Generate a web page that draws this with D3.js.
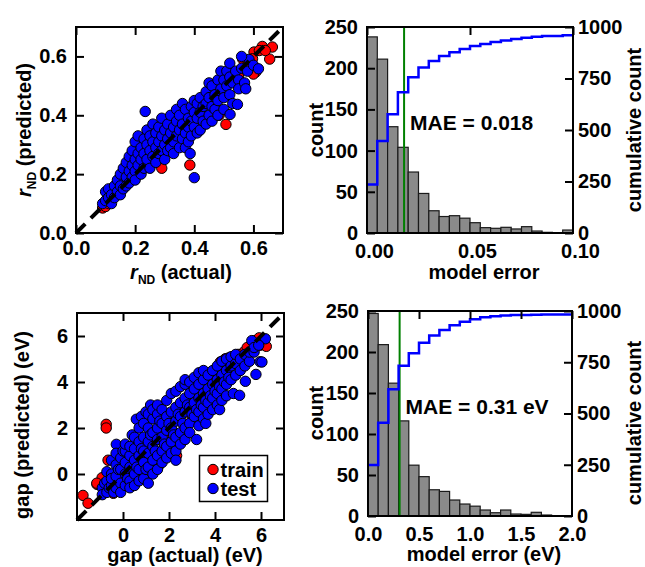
<!DOCTYPE html>
<html>
<head>
<meta charset="utf-8">
<script src="https://cdn.jsdelivr.net/npm/d3@7"></script>
<style>
  body { margin: 0; background: #fff; }
  text { font-family: 'Liberation Sans', Arial, Helvetica, sans-serif; font-weight: bold; }
</style>
</head>
<body>
<svg id="chart" width="645" height="567"></svg>
<script>
/* global d3 */

// ---- r_ND parity plot (top left) ----
var rndTicks = [0, 0.2, 0.4, 0.6]
var rndTickLabels = ['0.0', '0.2', '0.4', '0.6']
var rndTrain = [
    [0.664, 0.632], [0.655, 0.591], [0.63, 0.634], [0.602, 0.615], [0.608, 0.547], [0.563, 0.592],
    [0.507, 0.369], [0.597, 0.592], [0.385, 0.231], [0.09, 0.085], [0.10, 0.09], [0.62, 0.62],
    [0.58, 0.57], [0.55, 0.53], [0.484, 0.40], [0.45, 0.45], [0.30, 0.30], [0.20, 0.19],
    [0.25, 0.24], [0.35, 0.36], [0.40, 0.40], [0.60, 0.54], [0.64, 0.62], [0.52, 0.52],
    [0.34, 0.31], [0.15, 0.14], [0.43, 0.40], [0.57, 0.56], [0.29, 0.22], [0.11, 0.10]
]
var rndTest = [
    [0.09, 0.10], [0.10, 0.14], [0.10, 0.11], [0.11, 0.12], [0.11, 0.15], [0.12, 0.13], [0.12, 0.10],
    [0.13, 0.16], [0.13, 0.12], [0.14, 0.18], [0.14, 0.14], [0.15, 0.13], [0.15, 0.20], [0.15, 0.16],
    [0.16, 0.22], [0.16, 0.15], [0.17, 0.19], [0.17, 0.24], [0.17, 0.16], [0.18, 0.21], [0.18, 0.26],
    [0.18, 0.17], [0.19, 0.23], [0.19, 0.19], [0.19, 0.28], [0.20, 0.25], [0.20, 0.31], [0.20, 0.21],
    [0.20, 0.18], [0.21, 0.27], [0.21, 0.33], [0.21, 0.23], [0.22, 0.29], [0.22, 0.20], [0.22, 0.25],
    [0.23, 0.32], [0.23, 0.27], [0.23, 0.22], [0.234, 0.413], [0.24, 0.30], [0.24, 0.35], [0.24, 0.25],
    [0.25, 0.28], [0.25, 0.33], [0.25, 0.22], [0.26, 0.37], [0.26, 0.31], [0.26, 0.26], [0.27, 0.34],
    [0.27, 0.29], [0.27, 0.24], [0.28, 0.36], [0.28, 0.31], [0.28, 0.27], [0.29, 0.39], [0.29, 0.33],
    [0.29, 0.28], [0.30, 0.35], [0.30, 0.30], [0.30, 0.25], [0.31, 0.37], [0.31, 0.32], [0.31, 0.28],
    [0.32, 0.40], [0.32, 0.34], [0.32, 0.29], [0.33, 0.36], [0.33, 0.31], [0.33, 0.27], [0.34, 0.42],
    [0.34, 0.38], [0.34, 0.33], [0.35, 0.40], [0.35, 0.35], [0.35, 0.29], [0.36, 0.44], [0.36, 0.37],
    [0.36, 0.32], [0.37, 0.42], [0.37, 0.34], [0.37, 0.29], [0.38, 0.39], [0.38, 0.36], [0.38, 0.31],
    [0.386, 0.27], [0.40, 0.188], [0.39, 0.43], [0.39, 0.38], [0.39, 0.33], [0.40, 0.45], [0.40, 0.41],
    [0.40, 0.36], [0.41, 0.44], [0.41, 0.39], [0.41, 0.34], [0.42, 0.46], [0.42, 0.41], [0.42, 0.35],
    [0.43, 0.43], [0.43, 0.38], [0.44, 0.48], [0.44, 0.44], [0.44, 0.37], [0.45, 0.51], [0.45, 0.46],
    [0.45, 0.40], [0.46, 0.43], [0.46, 0.38], [0.46, 0.50], [0.47, 0.47], [0.47, 0.42], [0.48, 0.52],
    [0.48, 0.45], [0.48, 0.40], [0.49, 0.55], [0.49, 0.49], [0.50, 0.52], [0.50, 0.46], [0.50, 0.42],
    [0.51, 0.50], [0.51, 0.55], [0.52, 0.577], [0.52, 0.53], [0.52, 0.47], [0.521, 0.403], [0.53, 0.51],
    [0.53, 0.44], [0.54, 0.55], [0.546, 0.437], [0.55, 0.52], [0.55, 0.49], [0.56, 0.56], [0.57, 0.51],
    [0.574, 0.49], [0.585, 0.59], [0.58, 0.55], [0.60, 0.57], [0.617, 0.558], [0.56, 0.60]
]

// ---- band gap parity plot (bottom left) ----
var gapTicks = [0, 2, 4, 6]
var gapTickLabels = ['0', '2', '4', '6']
var gapTrain = [
    [-1.74, -0.93], [-1.52, -1.27], [-0.73, 2.16], [-0.73, 2.0], [-0.65, 0.6], [-1.13, -0.45],
    [-0.91, -0.16], [-1.14, -0.4], [-0.42, -0.84], [0.67, 1.33], [1.53, 0.32], [2.33, 0.8],
    [3.0, 2.5], [4.23, 4.87], [4.45, 5.01], [4.6, 5.05], [4.9, 5.0], [5.25, 4.73], [5.25, 5.3],
    [5.5, 5.3], [5.75, 5.8], [5.92, 5.92], [5.97, 5.6], [6.1, 5.75], [6.23, 5.55], [4.4, 4.7],
    [3.9, 4.4], [5.0, 5.2], [5.4, 5.5], [2.0, 1.8], [1.0, 1.2], [-0.2, -0.5], [3.5, 3.3]
]
var gapTest = [
    [-0.9, -0.6], [-0.9, -0.9], [-0.8, -0.4], [-0.7, -0.3], [-0.7, -0.8], [-0.7, 0.1], [-0.6, -0.6],
    [-0.5, -0.5], [-0.5, 0.0], [-0.5, -0.2], [-0.5, 0.6], [-0.4, -0.8], [-0.29, 1.29], [-0.3, -0.6],
    [-0.3, -0.1], [-0.3, 0.4], [-0.3, 0.9], [-0.2, 0.2], [-0.1, -0.4], [-0.1, 0.2], [-0.1, 0.7],
    [-0.1, -0.8], [0.0, 1.0], [0.1, 0.0], [0.1, 0.5], [0.1, 1.0], [0.1, -0.5], [0.1, 1.3], [0.2, -0.2],
    [0.3, -0.3], [0.3, 0.3], [0.3, 0.8], [0.3, 1.2], [0.3, -0.6], [0.4, 1.7], [0.5, 0.0], [0.5, 0.6],
    [0.5, 1.1], [0.5, 1.6], [0.5, -0.5], [0.58, 2.38], [0.6, 0.3], [0.7, 0.2], [0.7, 0.8], [0.7, 1.4],
    [0.7, 2.0], [0.7, -0.3], [0.8, 1.1], [0.8, 2.5], [0.9, 0.5], [0.9, 1.0], [0.9, 1.6], [0.9, 2.2],
    [0.9, -0.2], [1.0, 0.2], [1.0, 2.7], [1.1, 0.3], [1.1, 0.9], [1.1, 1.4], [1.1, 2.0], [1.1, 2.6],
    [1.1, -0.4], [1.2, 1.7], [1.2, 3.0], [1.3, 0.6], [1.3, 1.2], [1.3, 1.8], [1.3, 2.4], [1.3, 2.8],
    [1.3, 0.0], [1.4, 1.0], [1.5, 0.8], [1.5, 1.5], [1.5, 2.0], [1.5, 2.6], [1.5, 3.0], [1.5, 0.2],
    [1.6, 2.3], [1.7, 1.0], [1.7, 1.6], [1.7, 2.2], [1.7, 2.8], [1.7, 0.5], [1.8, 1.3], [1.9, 1.2],
    [1.9, 1.9], [1.9, 2.5], [1.9, 3.2], [1.9, 0.7], [2.0, 2.2], [2.1, 1.4], [2.1, 2.0], [2.1, 2.7],
    [2.1, 3.5], [2.1, 0.9], [2.2, 1.7], [2.3, 1.6], [2.3, 2.3], [2.3, 2.9], [2.3, 3.6], [2.3, 1.0],
    [2.3, 0.6], [2.4, 2.6], [2.5, 1.8], [2.5, 2.5], [2.5, 3.1], [2.5, 3.8], [2.5, 1.3], [2.6, 2.2],
    [2.7, 2.0], [2.7, 2.7], [2.7, 3.3], [2.7, 3.9], [2.7, 4.1], [2.7, 1.5], [2.8, 3.0], [2.9, 2.2],
    [2.9, 2.9], [2.9, 3.5], [2.9, 1.8], [2.9, 4.0], [3.0, 2.6], [3.1, 2.5], [3.1, 3.1], [3.1, 3.7],
    [3.2, 1.5], [3.1, 4.2], [3.2, 2.8], [3.3, 2.7], [3.3, 3.3], [3.3, 3.9], [3.3, 2.1], [3.3, 4.4],
    [3.4, 3.0], [3.5, 2.9], [3.5, 3.5], [3.5, 4.1], [3.5, 2.4], [3.5, 4.5], [3.6, 3.2], [3.6, 2.2],
    [3.7, 3.1], [3.7, 3.7], [3.7, 4.3], [3.7, 2.6], [3.8, 3.4], [3.9, 3.3], [3.9, 3.9], [3.9, 4.5],
    [3.9, 2.8], [4.0, 3.6], [4.1, 3.5], [4.1, 4.1], [4.1, 4.7], [4.1, 3.0], [4.2, 3.8], [4.2, 2.8],
    [4.3, 3.7], [4.3, 4.3], [4.3, 4.9], [4.3, 3.2], [4.4, 4.0], [4.5, 3.9], [4.5, 4.5], [4.5, 5.0],
    [4.5, 3.4], [4.6, 4.2], [4.7, 4.1], [4.7, 4.7], [4.7, 5.1], [4.8, 3.5], [4.9, 4.3], [4.9, 4.8],
    [4.9, 5.2], [5.07, 3.42], [5.1, 4.5], [5.1, 5.0], [5.32, 4.03], [5.3, 4.7], [5.3, 5.2], [5.5, 4.9],
    [5.5, 5.3], [5.6, 5.8], [5.7, 5.3], [5.7, 5.5], [5.78, 4.33], [5.96, 4.88], [6.04, 4.87],
    [6.19, 5.88], [5.9, 5.6]
]

// ---- r_ND error histogram (top right) ----
var rndBinStarts = [0, 0.005, 0.01, 0.015, 0.02, 0.025, 0.03, 0.035, 0.04, 0.045,
                    0.05, 0.055, 0.06, 0.065, 0.07, 0.075, 0.08, 0.085, 0.09, 0.095]
var rndCounts = [238, 211, 129, 104, 74, 48, 27, 20, 21, 18, 12.5, 6.5, 5.7, 6.9, 4.9, 7.7, 2.4, 0.8, 0, 3.6]
var rndCumulative = [236, 447, 576, 683, 756, 803, 835, 859, 877, 893, 908, 917, 927, 935, 942, 948, 953, 956, 956, 960]
var rndMAE = 0.018
var rndErrTicks = [0, 0.05, 0.1]
var rndErrTickLabels = ['0.00', '0.05', '0.10']

// ---- gap error histogram (bottom right) ----
var gapBinStarts = [0, 0.1, 0.2, 0.3, 0.4, 0.5, 0.6, 0.7, 0.8, 0.9,
                    1.0, 1.1, 1.2, 1.3, 1.4, 1.5, 1.6, 1.7, 1.8, 1.9]
var gapCounts = [247, 209, 162, 116, 62, 48, 32, 30, 19.5, 14.6, 12, 7.3, 4, 7.3, 2.4, 2, 4.5, 1.2, 0.4, 0]
var gapCumulative = [249, 455, 618, 733, 794, 845, 880, 907, 930, 948, 960, 969, 974, 978, 980, 981, 982, 983, 983, 983]
var gapMAE = 0.31
var gapErrTicks = [0, 0.5, 1, 1.5, 2]
var gapErrTickLabels = ['0.0', '0.5', '1.0', '1.5', '2.0']

var countTicks = [0, 50, 100, 150, 200, 250]
var countTickLabels = ['0', '50', '100', '150', '200', '250']
var cumTicks = [0, 250, 500, 750, 1000]
var cumTickLabels = ['0', '250', '500', '750', '1000']

var svg = d3.select('#chart')
svg.append('rect').attr('width', 645).attr('height', 567).attr('fill', '#fff')

var dotR = 5.2

function styleAxis(sel) {
    sel.attr('font-size', 20)
    sel.select('.domain').remove()
    sel.selectAll('.tick line').attr('stroke', '#000').attr('stroke-width', 2)
    sel.selectAll('.tick text').attr('fill', '#000')
}

function frame(box) {
    svg.append('rect')
       .attr('x', box.x0).attr('y', box.y0)
       .attr('width', box.x1 - box.x0).attr('height', box.y1 - box.y0)
       .attr('fill', 'none').attr('stroke', '#000').attr('stroke-width', 2)
}

function drawScatter(box, domain, ticks, tickLabels, train, test) {
    var x = d3.scaleLinear().domain(domain).range([box.x0, box.x1])
    var y = d3.scaleLinear().domain(domain).range([box.y1, box.y0])
    var g = svg.append('g')

    g.append('g').selectAll('circle')
     .data(train).enter().append('circle')
     .attr('cx', function (d) { return x(d[0]) })
     .attr('cy', function (d) { return y(d[1]) })
     .attr('r', dotR)
     .attr('fill', '#ff0000').attr('stroke', '#000').attr('stroke-width', 1)

    g.append('g').selectAll('circle')
     .data(test).enter().append('circle')
     .attr('cx', function (d) { return x(d[0]) })
     .attr('cy', function (d) { return y(d[1]) })
     .attr('r', dotR)
     .attr('fill', '#0000ff').attr('stroke', '#000').attr('stroke-width', 1)

    // y = x reference line
    g.append('line')
     .attr('x1', x(domain[0])).attr('y1', y(domain[0]))
     .attr('x2', x(domain[1])).attr('y2', y(domain[1]))
     .attr('stroke', '#000').attr('stroke-width', 4)
     .attr('stroke-dasharray', '13,8')

    var fmt = function (d, i) { return tickLabels[i] }
    g.append('g').attr('transform', 'translate(0,' + box.y1 + ')')
     .call(d3.axisBottom(x).tickValues(ticks).tickFormat(fmt).tickSize(-8).tickPadding(8))
     .call(styleAxis)
    g.append('g').attr('transform', 'translate(0,' + box.y0 + ')')
     .call(d3.axisTop(x).tickValues(ticks).tickFormat('').tickSize(-8))
     .call(styleAxis)
    g.append('g').attr('transform', 'translate(' + box.x0 + ',0)')
     .call(d3.axisLeft(y).tickValues(ticks).tickFormat(fmt).tickSize(-8).tickPadding(9))
     .call(styleAxis)
    g.append('g').attr('transform', 'translate(' + box.x1 + ',0)')
     .call(d3.axisRight(y).tickValues(ticks).tickFormat('').tickSize(-8))
     .call(styleAxis)
    frame(box)
}

function drawHist(box, xDomain, binStarts, counts, cumulative, mae, maeLabel, xTicks, xTickLabels, labelShift) {
    var x = d3.scaleLinear().domain(xDomain).range([box.x0, box.x1])
    var y = d3.scaleLinear().domain([0, 250]).range([box.y1, box.y0])
    var y2 = d3.scaleLinear().domain([0, 1000]).range([box.y1, box.y0])
    var binWidth = binStarts[1] - binStarts[0]
    var g = svg.append('g')

    g.selectAll('.bar')
     .data(counts).enter().append('rect')
     .attr('class', 'bar')
     .attr('x', function (d, i) { return x(binStarts[i]) })
     .attr('width', function (d, i) { return x(binStarts[i] + binWidth) - x(binStarts[i]) })
     .attr('y', function (d) { return y(d) })
     .attr('height', function (d) { return y(0) - y(d) })
     .attr('fill', '#8a8a8a').attr('stroke', '#1a1a1a').attr('stroke-width', 1.2)

    g.append('line')
     .attr('x1', x(mae)).attr('x2', x(mae))
     .attr('y1', box.y0).attr('y2', box.y1)
     .attr('stroke', '#008000').attr('stroke-width', 2)

    var pts = binStarts.map(function (s, i) { return [s, cumulative[i]] })
    pts.push([xDomain[1], cumulative[cumulative.length - 1]])
    g.append('path')
     .datum(pts)
     .attr('fill', 'none').attr('stroke', '#0000ff').attr('stroke-width', 2.5)
     .attr('d', d3.line()
        .x(function (d) { return x(d[0]) })
        .y(function (d) { return y2(d[1]) })
        .curve(d3.curveStepAfter))

    g.append('g').attr('transform', 'translate(0,' + box.y1 + ')')
     .call(d3.axisBottom(x).tickValues(xTicks).tickFormat(function (d, i) { return xTickLabels[i] })
        .tickSize(0).tickPadding(11))
     .call(styleAxis)
     .selectAll('.tick text').attr('dx', labelShift)
    g.append('g').attr('transform', 'translate(0,' + box.y0 + ')')
     .call(d3.axisTop(x).tickValues(xTicks).tickFormat('').tickSize(-8))
     .call(styleAxis)
    g.append('g').attr('transform', 'translate(' + box.x0 + ',0)')
     .call(d3.axisLeft(y).tickValues(countTicks).tickFormat(function (d, i) { return countTickLabels[i] })
        .tickSize(-8).tickPadding(9))
     .call(styleAxis)
    g.append('g').attr('transform', 'translate(' + box.x1 + ',0)')
     .call(d3.axisRight(y2).tickValues(cumTicks).tickFormat(function (d, i) { return cumTickLabels[i] })
        .tickSize(-8).tickPadding(5))
     .call(styleAxis)
    frame(box)

    g.append('text')
     .attr('x', x(mae) + 6).attr('y', box.y0 + 103)
     .attr('font-size', 21)
     .text(maeLabel)
}

function vTitle(cx, cy, txt) {
    return svg.append('text')
              .attr('transform', 'translate(' + cx + ',' + cy + ') rotate(-90)')
              .attr('text-anchor', 'middle')
              .attr('font-size', 20)
              .text(txt)
}

function hTitle(cx, cy, txt) {
    return svg.append('text')
              .attr('x', cx).attr('y', cy)
              .attr('text-anchor', 'middle')
              .attr('font-size', 20)
              .text(txt)
}

function rndTitle(t, rest) {
    t.append('tspan').attr('font-style', 'italic').text('r')
    t.append('tspan').attr('font-size', 12).attr('dy', 5).text('ND')
    t.append('tspan').attr('dy', -5).text(rest)
}

// panels
drawScatter({ x0: 76, x1: 283, y0: 27, y1: 233 }, [0, 0.7], rndTicks, rndTickLabels, rndTrain, rndTest)
drawScatter({ x0: 77, x1: 284, y0: 313, y1: 520 }, [-2, 7], gapTicks, gapTickLabels, gapTrain, gapTest)
drawHist({ x0: 367, x1: 573, y0: 27, y1: 233 }, [0, 0.1], rndBinStarts, rndCounts, rndCumulative,
         rndMAE, 'MAE = 0.018', rndErrTicks, rndErrTickLabels, 7)
drawHist({ x0: 368, x1: 572, y0: 311, y1: 516 }, [0, 2], gapBinStarts, gapCounts, gapCumulative,
         gapMAE, 'MAE = 0.31 eV', gapErrTicks, gapErrTickLabels, 0)

// axis titles
rndTitle(vTitle(31, 130, ''), ' (predicted)')
rndTitle(hTitle(181, 279, ''), ' (actual)')
vTitle(29, 425, 'gap (predicted) (eV)')
hTitle(185, 562, 'gap (actual) (eV)')

vTitle(323, 130, 'count')
vTitle(641, 130, 'cumulative count')
hTitle(484, 279, 'model error')
vTitle(323, 413, 'count')
vTitle(641, 423, 'cumulative count')
hTitle(484, 561, 'model error (eV)')

// legend
var legend = svg.append('g').attr('transform', 'translate(199.5,455.5)')
legend.append('rect').attr('width', 68).attr('height', 46)
      .attr('fill', '#fff').attr('stroke', '#000').attr('stroke-width', 1.5)
var legendItems = [{ name: 'train', color: '#ff0000' }, { name: 'test', color: '#0000ff' }]
var li = legend.selectAll('.li').data(legendItems).enter().append('g')
               .attr('transform', function (d, i) { return 'translate(0,' + (14 + i * 19) + ')' })
li.append('circle').attr('cx', 13.5).attr('cy', 0).attr('r', dotR)
  .attr('fill', function (d) { return d.color }).attr('stroke', '#000').attr('stroke-width', 1)
li.append('text').attr('x', 21).attr('y', 7).attr('font-size', 20)
  .text(function (d) { return d.name })
</script>
</body>
</html>
